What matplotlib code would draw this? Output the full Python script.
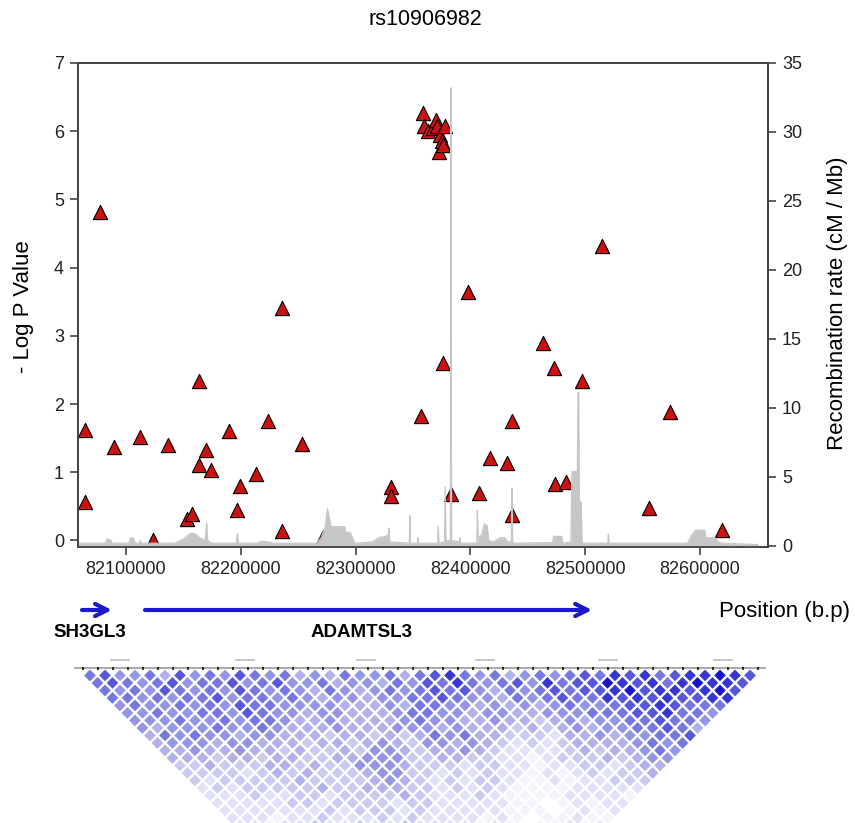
import numpy as np
import matplotlib
matplotlib.use("Agg")
import matplotlib.pyplot as plt
import matplotlib.transforms as mtransforms
from matplotlib.collections import PolyCollection
from matplotlib.colors import LinearSegmentedColormap

plt.rcParams['font.family'] = ['Liberation Sans', 'DejaVu Sans']

# SNP association results (-log10 p)
snp_pos = [82064300, 82064300, 82077400, 82089600, 82112200, 82123800, 82136300,
           82152900, 82157800, 82163900, 82163900, 82169700, 82173800, 82189700,
           82196400, 82199300, 82213300, 82223900, 82235600, 82236100, 82253600,
           82271600, 82330600, 82330600, 82356700, 82359000, 82359600, 82363100,
           82367700, 82370100, 82371200, 82372900, 82373500, 82375100, 82376000,
           82378000, 82376400, 82382900, 82397700, 82407500, 82417100, 82432200,
           82436500, 82436000, 82463500, 82473100, 82474000, 82483300, 82497000,
           82514400, 82555800, 82574100, 82619400]
snp_logp = [1.62, 0.56, 4.81, 1.37, 1.52, 0.0, 1.40,
            0.31, 0.39, 2.34, 1.10, 1.33, 1.03, 1.60,
            0.44, 0.80, 0.98, 1.75, 3.41, 0.14, 1.41,
            0.05, 0.79, 0.65, 1.82, 6.27, 6.07, 6.00,
            6.05, 6.17, 6.07, 5.70, 5.95, 5.85, 5.80,
            6.07, 2.60, 0.68, 3.64, 0.69, 1.21, 1.13,
            1.75, 0.37, 2.89, 2.53, 0.83, 0.86, 2.34,
            4.31, 0.47, 1.89, 0.15]

# recombination rate (cM/Mb)
recomb_pos = [82058200, 82082000, 82083500, 82086500, 82088000, 82102500, 82104000,
              82106500, 82108000, 82111500, 82112500, 82113500, 82142000, 82150000,
              82156000, 82160000, 82164000, 82169000, 82170300, 82171200, 82175000,
              82196200, 82197000, 82197900, 82214000, 82218000, 82224000, 82228000,
              82266000, 82270000, 82273500, 82275500, 82277500, 82278500, 82290500,
              82291000, 82295000, 82299500, 82315000, 82320000, 82326000, 82328500,
              82329000, 82329800, 82346800, 82347300, 82347800, 82354000, 82354400,
              82354800, 82371500, 82372000, 82372600, 82377500, 82378000, 82378700,
              82382600, 82383000, 82383600, 82390500, 82391000, 82391500, 82405600,
              82406100, 82406700, 82410000, 82412000, 82414500, 82416000, 82420000,
              82426000, 82430000, 82432500, 82435700, 82436200, 82436800, 82471500,
              82472500, 82479500, 82480500, 82487500, 82488500, 82493200, 82493700,
              82494300, 82494800, 82496500, 82497300, 82519800, 82520200, 82520600,
              82589000, 82593000, 82596000, 82604000, 82605000, 82613000, 82616000,
              82619000, 82650500]
recomb_rate = [0.2, 0.2, 0.5, 0.45, 0.2, 0.2, 0.6,
               0.55, 0.2, 0.2, 0.4, 0.2, 0.2, 0.5,
               0.9, 0.9, 0.6, 0.4, 1.7, 0.4, 0.2,
               0.2, 0.9, 0.2, 0.2, 0.35, 0.3, 0.2,
               0.2, 0.6, 1.4, 2.7, 1.9, 1.4, 1.4,
               1.0, 1.0, 0.2, 0.3, 0.6, 0.7, 0.8,
               1.3, 0.3, 0.2, 2.2, 0.2, 0.2, 0.6,
               0.2, 0.2, 1.4, 0.2, 0.3, 4.3, 0.4,
               0.4, 33.2, 0.4, 0.3, 0.6, 0.2, 0.2,
               2.6, 0.6, 0.8, 1.6, 1.5, 0.4, 0.3,
               0.6, 0.6, 0.3, 0.3, 4.2, 0.2, 0.25,
               0.7, 0.7, 0.2, 0.3, 5.4, 5.4, 11.1,
               11.1, 3.2, 3.2, 0.2, 0.2, 0.85, 0.2,
               0.2, 0.8, 1.15, 1.15, 0.6, 0.6, 0.3,
               0.2, 0.1]

xticks = [82100000, 82200000, 82300000, 82400000, 82500000, 82600000]

# genes: name, start, end
gene_names = ['SH3GL3', 'ADAMTSL3']
gene_start = [82061700, 82116600]
gene_end = [82087800, 82506000]

# LD (r^2 shade 0-9), one string per distance between markers
ld_rows = [
    "6755647565" "7656454655" "6467865645" "6567687867" "88987",
    "676" "56756" "675675" "5645" "5465" "7686" "5675" "867" "7987868" "9887",
    "65" "65765" "6576565" "4654" "5656" "767" "546567" "67" "7897887" "897",
    "66" "5656" "6756656" "5455" "4556" "676" "554656" "766" "878787" "788",
    "565565" "6576655" "5544" "4546" "65545" "4545" "6556" "77876" "66",
    "55655" "6657655" "4554" "4456" "65545" "5445" "5566" "67786" "65",
    "55565" "5656654" "4544" "4456" "55445" "4434" "5455" "66766" "5",
    "5455" "5655654" "4454" "4455" "54544" "4343" "4545" "56676" "4",
    "4656" "5545544" "4344" "3434" "65644" "3332" "4454" "55667",
    "455" "5455444" "3443" "4543" "55454" "3232" "3444" "45656",
    "445" "4454434" "3343" "5543" "44543" "2222" "3434" "4565",
    "44" "4344344" "3344" "5553" "34433" "2212" "3334" "3455",
    "334333" "44343" "35554" "3332" "332" "2122" "332" "344",
    "333323" "43433" "34553" "3232" "322" "1212" "323" "34",
    "323333" "34333" "34543" "2323" "321" "1212" "233" "3",
    "232333" "33433" "44433" "2323" "211" "1122" "222",
    "222322" "3323" "333432" "2232" "1111" "222" "21",
    "222223" "3233" "332332" "2222" "1101" "212" "2",
    "222222" "2323" "332322" "2221" "1101" "21" "2",
    "22212" "2322" "232322" "2212" "1011" "211",
    "2212" "2322" "322322" "2212" "1011" "212",
]
n_markers = 46
block_label_x = [3.0, 11.3, 19.4, 27.3, 35.5, 43.2]

fig = plt.figure(figsize=(8.55, 8.23), dpi=100)

# ---- association plot
ax = fig.add_axes([0.0912, 0.3354, 0.8070, 0.5881])
ax.scatter(snp_pos, snp_logp, marker='^', s=105, c='#cc1111',
           edgecolors='black', linewidths=0.8, zorder=3)
ax.set_xlim(82058200, 82659200)
ax.set_ylim(-0.095, 7)
ax.set_xticks(xticks)
ax.set_xticklabels([str(t) for t in xticks])
ax.set_yticks(range(0, 8))

ax2 = ax.twinx()
ax2.fill_between(recomb_pos, recomb_rate, -0.07, color='#c6c6c6', lw=0)
ax2.plot(recomb_pos, recomb_rate, color='#c6c6c6', lw=0.9)
ax2.set_ylim(-0.07, 35)
ax2.set_yticks(range(0, 36, 5))

for a in (ax, ax2):
    for sp in a.spines.values():
        sp.set_color('#444444')
        sp.set_linewidth(1.3)
    a.tick_params(direction='out', length=6, width=1.2, color='#444444',
                  labelsize=13, labelcolor='#222222', pad=4)

fig.text(0.497, 0.9757, 'rs10906982', fontsize=15.5, ha='center', va='center')
fig.text(0.027, 0.628, '- Log P Value', fontsize=16, rotation=90,
         ha='center', va='center')
fig.text(0.979, 0.632, 'Recombination rate (cM / Mb)', fontsize=16,
         rotation=90, ha='center', va='center')
fig.text(0.994, 0.2564, 'Position (b.p)', fontsize=16, ha='right', va='center')

# ---- genes
trans = mtransforms.blended_transform_factory(ax.transData, fig.transFigure)
for s, e in zip(gene_start, gene_end):
    ax.annotate('', xy=(e, 0.2588), xytext=(s, 0.2588), xycoords=trans,
                textcoords=trans, annotation_clip=False,
                arrowprops=dict(arrowstyle='->', color='#1a1acc', lw=3,
                                mutation_scale=22, shrinkA=0, shrinkB=0))
fig.text(0.062, 0.2309, gene_names[0], fontsize=13.5, fontweight='bold',
         ha='left', va='center')
fig.text(0.4234, 0.2309, gene_names[1], fontsize=13.5, fontweight='bold',
         ha='center', va='center')

# ---- LD triangle
ax_ld = fig.add_axes([75 / 855, 0, 690 / 855, 155 / 823])
ax_ld.set_xlim(0, n_markers)
ax_ld.set_ylim(155 / 15, 0)
ax_ld.axis('off')

cmap = LinearSegmentedColormap.from_list('ld', ['#ffffff', '#1414cc'])
polys, vals = [], []
for d, row in enumerate(ld_rows, start=1):
    for i, ch in enumerate(row[:n_markers - d]):
        cx, cy = i + (d + 1) / 2, d / 2
        polys.append([(cx, cy - 0.5), (cx + 0.5, cy), (cx, cy + 0.5), (cx - 0.5, cy)])
        vals.append((int(ch) / 9) ** 1.35)
pc = PolyCollection(polys, facecolors=cmap(np.array(vals)), edgecolors='white',
                    linewidths=1.6)
ax_ld.add_collection(pc)

ax_ld.plot([0, n_markers], [0, 0], color='#999999', lw=1.2, clip_on=False)
ax_ld.vlines(np.arange(n_markers) + 0.5, -0.1, 0.1, color='black', lw=1.1,
             clip_on=False)
for bx in block_label_x:
    ax_ld.plot([bx - 0.6, bx + 0.6], [-0.55, -0.55], color='#bbbbbb', lw=1.2,
               clip_on=False)

fig.savefig('out.png', dpi=100)
